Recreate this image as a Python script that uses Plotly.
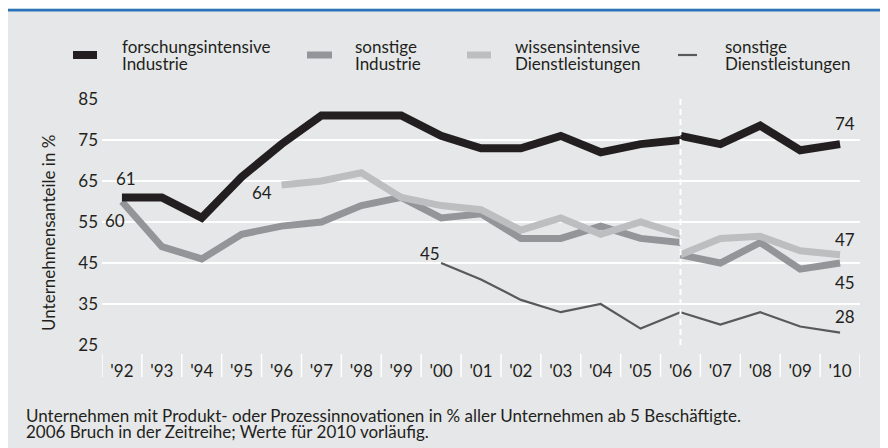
import plotly.graph_objects as go

years = list(range(1992, 2011))
tick_labels = ["'92", "'93", "'94", "'95", "'96", "'97", "'98", "'99", "'00", "'01",
               "'02", "'03", "'04", "'05", "'06", "'07", "'08", "'09", "'10"]

years_a = list(range(1992, 2007))   # before the break
years_b = list(range(2006, 2011))   # after the break

forsch_a = [61, 61, 56, 66, 74, 81, 81, 81, 76, 73, 73, 76, 72, 74, 75]
forsch_b = [76, 74, 78.5, 72.5, 74]
sonst_ind_a = [60, 49, 46, 52, 54, 55, 59, 61, 56, 57, 51, 51, 54, 51, 50]
sonst_ind_b = [47, 45, 50, 43.5, 45]
wiss_dl_a = [None, None, None, None, 64, 65, 67, 61, 59, 58, 53, 56, 52, 55, 52]
wiss_dl_b = [47, 51, 51.5, 48, 47]
sonst_dl_a = [None, None, None, None, None, None, None, None, 45, 41, 36, 33, 35, 29, 33]
sonst_dl_b = [33, 30, 33, 29.5, 28]

names = [("forschungsintensive", "Industrie"), ("sonstige", "Industrie"),
         ("wissensintensive", "Dienstleistungen"), ("sonstige", "Dienstleistungen")]
colors = ["#231f20", "#939598", "#bcbec0", "#58595b"]
widths = [8, 7, 7, 2.2]

y_ticks = [25, 35, 45, 55, 65, 75, 85]
note_lines = ["Unternehmen mit Produkt- oder Prozessinnovationen in % aller Unternehmen ab 5 Beschäftigte.",
              "2006 Bruch in der Zeitreihe; Werte für 2010 vorläufig."]
y_title = "Unternehmensanteile in %"

FONT = "Lato, 'Open Sans', sans-serif"
TXT = "#231f20"
BG = "#e6e7e8"

# the page places the figure 8px from the top-left corner (body margin)
OFF = 8
W, H = 888, 448
# plot area in page pixels: x 102..860, y 99..345
ML = 102 - OFF
MR = W - (860 - OFF)
MT = 99 - OFF
MB = H - (345 - OFF)
PW, PH = W - ML - MR, H - MT - MB


def px(x):  # page pixel x -> paper
    return (x - OFF - ML) / PW


def py(y):  # page pixel y -> paper
    return (H - MB - (y - OFF)) / PH


fig = go.Figure()
series = [(forsch_a, forsch_b), (sonst_ind_a, sonst_ind_b), (wiss_dl_a, wiss_dl_b), (sonst_dl_a, sonst_dl_b)]
order = [3, 1, 2, 0]
for i in order:
    a, b = series[i]
    for xs, ys in ((years_a, a), (years_b, b)):
        fig.add_trace(go.Scatter(x=xs, y=ys, mode="lines", showlegend=False,
                                 line=dict(color=colors[i], width=widths[i]),
                                 hoverinfo="skip", connectgaps=False))

shapes = []
# white top strip and blue top rule (paper itself is grey)
shapes.append(dict(type="rect", xref="paper", yref="paper", x0=px(0), x1=px(W + OFF + 4), y0=py(8.8), y1=py(0),
                   fillcolor="white", line=dict(width=0), layer="below"))
shapes.append(dict(type="rect", xref="paper", yref="paper", x0=px(0), x1=px(W + OFF + 4), y0=py(11.5), y1=py(8.8),
                   fillcolor="#2a73b8", line=dict(width=0), layer="below"))
# category dividers under the axis
for k in range(len(years) + 1):
    xv = years[0] - 0.5 + k
    shapes.append(dict(type="line", xref="x", yref="paper", x0=xv, x1=xv, y0=py(354), y1=py(377),
                       line=dict(color="white", width=1.5), layer="below"))
# break line
shapes.append(dict(type="line", xref="x", yref="paper", x0=years_b[0], x1=years_b[0], y0=0, y1=1,
                   line=dict(color="white", width=2, dash="6px,4px"), layer="above"))

annotations = []
# legend
mk_x = [(73, 97), (307, 332), (467, 491), (678, 697)]
mk_h = [8, 7, 7, 2.2]
tx_x = [120, 353, 513, 723]
for i in range(4):
    x0, x1 = mk_x[i]
    shapes.append(dict(type="rect", xref="paper", yref="paper", x0=px(x0), x1=px(x1),
                       y0=py(55 + mk_h[i] / 2), y1=py(55 - mk_h[i] / 2),
                       fillcolor=colors[i], line=dict(width=0)))
    for j, line in enumerate(names[i]):
        annotations.append(dict(xref="paper", yref="paper", x=px(tx_x[i]), y=py(46 + 18 * j),
                                text=line, showarrow=False, xanchor="left", yanchor="middle",
                                font=dict(family=FONT, size=17, color=TXT)))

# data labels
def lab(x, y, xs, ys, anchor="center"):
    annotations.append(dict(xref="x", yref="y", x=x, y=y, text=str(round(y)), showarrow=False,
                            xanchor=anchor, yanchor="middle", xshift=xs, yshift=ys,
                            font=dict(family=FONT, size=17, color=TXT)))

lab(years_a[0], forsch_a[0], 4, 19)
lab(years_a[0], sonst_ind_a[0], 5, -19, "right")
lab(years_a[4], wiss_dl_a[4], -8, -7, "right")
lab(years_a[8], sonst_dl_a[8], 1, 10, "right")
lab(years_b[-1], forsch_b[-1], 5, 21)
lab(years_b[-1], wiss_dl_b[-1], 5, 15)
lab(years_b[-1], sonst_ind_b[-1], 5, -19)
lab(years_b[-1], sonst_dl_b[-1], 5, 16)

# y-axis title
annotations.append(dict(xref="paper", yref="paper", x=px(48), y=py(233), text=y_title, textangle=-90,
                        showarrow=False, xanchor="center", yanchor="middle",
                        font=dict(family=FONT, size=17, color=TXT)))
# notes
for j, line in enumerate(note_lines):
    annotations.append(dict(xref="paper", yref="paper", x=px(24), y=py(415 + 17 * j), text=line,
                            showarrow=False, xanchor="left", yanchor="middle",
                            font=dict(family=FONT, size=17, color=TXT)))

fig.update_layout(
    width=W, height=H,
    margin=dict(l=ML, r=MR, t=MT, b=MB, pad=0),
    paper_bgcolor=BG, plot_bgcolor=BG,
    showlegend=False,
    shapes=shapes, annotations=annotations,
    xaxis=dict(range=[years[0] - 0.5, years[-1] + 0.5], tickvals=years, ticktext=tick_labels,
               showgrid=False, zeroline=False, showline=False, ticks="",
               ticklabelstandoff=14, tickfont=dict(family=FONT, size=17, color=TXT)),
    yaxis=dict(range=[25, 85], tickvals=y_ticks, showgrid=True, gridcolor="white", gridwidth=1.5,
               zeroline=False, showline=False, ticks="", ticklabelstandoff=3,
               tickfont=dict(family=FONT, size=17, color=TXT)),
)

fig.write_html("out.html",
               post_script="document.documentElement.style.overflow='hidden';"
                           "document.body.style.overflow='hidden';")
